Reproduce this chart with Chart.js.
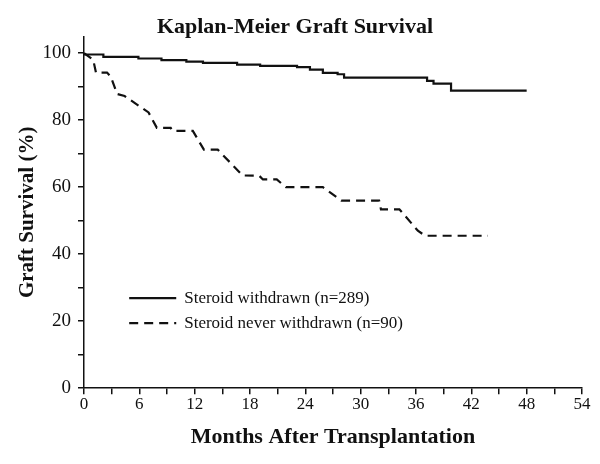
<!DOCTYPE html>
<html>
<head>
<meta charset="utf-8">
<script src="https://cdn.jsdelivr.net/npm/chart.js@4.4.1/dist/chart.umd.min.js"></script>
<style>
  body { margin: 0; background: #fff; }
  #wrap { width: 600px; height: 464px; }
</style>
</head>
<body>
<div id="wrap"><canvas id="km"></canvas></div>
<script>
// Kaplan-Meier graft survival
const withdrawnMonths = [0, 2.1, 5.9, 8.4, 11.1, 12.9, 16.6, 19.1, 23.1, 24.5, 25.9, 27.5, 28.2, 37.2, 37.9, 39.8, 43.7, 48.0];
const withdrawnSurvival = [100, 99.6, 98.9, 98.4, 97.9, 97.5, 97.1, 96.6, 96.2, 95.8, 95.1, 94.1, 93.7, 92.7, 91.7, 90.9, 88.8, 88.8];

const neverMonths = [0, 1.0, 1.3, 2.5, 2.9, 3.6, 4.4, 7.0, 7.9, 9.4, 9.6, 11.8, 13.0, 14.5, 17.2, 19.0, 19.4, 20.9, 21.9, 25.9, 27.9, 32.0, 32.2, 34.2, 36.2, 37.0, 43.8];
const neverSurvival = [100, 98, 94.2, 94.2, 93, 87.8, 87.2, 82.3, 77.7, 77.7, 76.8, 76.8, 71.2, 71.2, 63.5, 63.4, 62.3, 62.3, 60, 60, 56, 56, 53.4, 53.4, 47, 45.5, 45.5];

const seriesLabels = ["Steroid withdrawn (n=289)", "Steroid never withdrawn (n=90)"];
const xTicks = [0, 6, 12, 18, 24, 30, 36, 42, 48, 54];
const yTicks = [0, 20, 40, 60, 80, 100];

const serif = "'Liberation Serif', 'DejaVu Serif', serif";
const ink = "#111";

const toPoints = (xs, ys) => xs.map((x, i) => ({ x: x, y: ys[i] }));

// legend drawn inside the plot area, lower left
const insideLegend = {
  id: "insideLegend",
  afterDatasetsDraw(chart) {
    const { ctx, scales } = chart;
    const x0 = scales.x.getPixelForValue(4.9);
    const x1 = scales.x.getPixelForValue(10);
    const rows = [26.9, 19.4];
    ctx.save();
    ctx.font = "17px " + serif;
    ctx.fillStyle = ink;
    ctx.strokeStyle = ink;
    ctx.textBaseline = "middle";
    rows.forEach((val, i) => {
      const y = scales.y.getPixelForValue(val);
      ctx.lineWidth = 2.2;
      ctx.setLineDash(i === 0 ? [] : [9, 6]);
      ctx.beginPath();
      ctx.moveTo(x0, y);
      ctx.lineTo(x1, y);
      ctx.stroke();
      ctx.setLineDash([]);
      ctx.fillText(seriesLabels[i], x1 + 8, y);
    });
    ctx.restore();
  }
};

new Chart(document.getElementById("km"), {
  type: "line",
  data: {
    datasets: [
      {
        label: seriesLabels[0],
        data: toPoints(withdrawnMonths, withdrawnSurvival),
        borderColor: ink,
        borderWidth: 2.2,
        stepped: "after",
        pointRadius: 0,
        fill: false
      },
      {
        label: seriesLabels[1],
        data: toPoints(neverMonths, neverSurvival),
        borderColor: ink,
        borderWidth: 2.2,
        borderDash: [9, 6],
        pointRadius: 0,
        tension: 0,
        fill: false
      }
    ]
  },
  options: {
    responsive: true,
    maintainAspectRatio: false,
    animation: false,
    layout: { padding: { left: 8, right: 18, top: 14, bottom: 13 } },
    plugins: {
      legend: { display: false },
      tooltip: { enabled: false },
      title: {
        display: true,
        text: "Kaplan-Meier Graft Survival",
        color: ink,
        font: { family: serif, size: 22, weight: "bold" },
        padding: { top: 0, bottom: -4 }
      }
    },
    scales: {
      x: {
        type: "linear",
        min: 0,
        max: 54,
        ticks: {
          stepSize: 3,
          color: ink,
          maxRotation: 0,
          autoSkip: false,
          font: { family: serif, size: 17 },
          padding: 0,
          callback: (v) => (xTicks.includes(v) ? v : "")
        },
        grid: { drawOnChartArea: false, color: ink, tickLength: 6, lineWidth: 1.5 },
        border: { color: ink, width: 1.5 },
        title: {
          display: true,
          text: "Months After Transplantation",
          color: ink,
          font: { family: serif, size: 22, weight: "bold" },
          padding: { top: 10, bottom: 0 }
        }
      },
      y: {
        min: 0,
        max: 105,
        afterFit: (scale) => {
          scale.width = 76;
        },
        afterBuildTicks: (scale) => {
          scale.ticks = [];
          for (let v = 0; v <= 100; v += 10) scale.ticks.push({ value: v });
        },
        ticks: {
          color: ink,
          font: { family: serif, size: 19 },
          padding: 7,
          callback: (v) => (yTicks.includes(v) ? v : "")
        },
        grid: { drawOnChartArea: false, color: ink, tickLength: 6, lineWidth: 1.5 },
        border: { color: ink, width: 1.5 },
        title: {
          display: true,
          text: "Graft Survival (%)",
          color: ink,
          font: { family: serif, size: 21, weight: "bold" },
          padding: { top: 7, bottom: 2 }
        }
      }
    }
  },
  plugins: [insideLegend]
});
</script>
</body>
</html>
